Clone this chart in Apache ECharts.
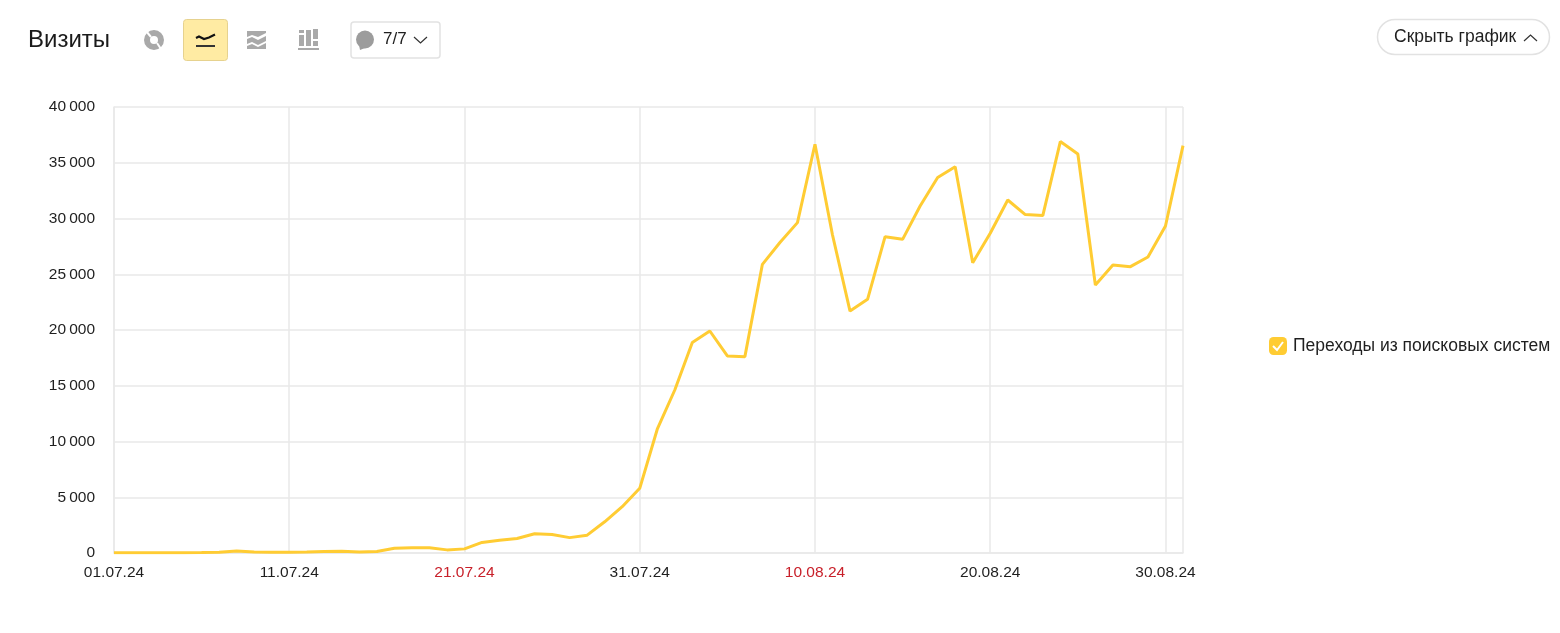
<!DOCTYPE html>
<html>
<head>
<meta charset="utf-8">
<style>
  html, body { margin: 0; padding: 0; background: #fff; }
  #chart { width: 1560px; height: 633px; }
</style>
<script src="https://cdn.jsdelivr.net/npm/echarts@6/dist/echarts.min.js"></script>
</head>
<body>
<div id="chart"></div>
<script>
const dates = [
  '01.07.24', '02.07.24', '03.07.24', '04.07.24', '05.07.24', '06.07.24', '07.07.24', '08.07.24', '09.07.24', '10.07.24',
  '11.07.24', '12.07.24', '13.07.24', '14.07.24', '15.07.24', '16.07.24', '17.07.24', '18.07.24', '19.07.24', '20.07.24',
  '21.07.24', '22.07.24', '23.07.24', '24.07.24', '25.07.24', '26.07.24', '27.07.24', '28.07.24', '29.07.24', '30.07.24',
  '31.07.24', '01.08.24', '02.08.24', '03.08.24', '04.08.24', '05.08.24', '06.08.24', '07.08.24', '08.08.24', '09.08.24',
  '10.08.24', '11.08.24', '12.08.24', '13.08.24', '14.08.24', '15.08.24', '16.08.24', '17.08.24', '18.08.24', '19.08.24',
  '20.08.24', '21.08.24', '22.08.24', '23.08.24', '24.08.24', '25.08.24', '26.08.24', '27.08.24', '28.08.24', '29.08.24',
  '30.08.24', '31.08.24'
]
const visits = [
  30, 30, 30, 30, 30, 40, 60, 170, 100, 70,
  70, 90, 130, 150, 100, 130, 420, 480, 470, 280,
  370, 950, 1150, 1300, 1730, 1650, 1380, 1600, 2800, 4150,
  5800, 11100, 14620, 18870, 19910, 17670, 17610, 25890, 27850, 29630,
  36660, 28520, 21700, 22750, 28370, 28130, 31120, 33670, 34650, 26040,
  28680, 31660, 30350, 30260, 36900, 35790, 24040, 25830, 25680, 26550,
  29330, 36540
]
const redDates = ['21.07.24', '10.08.24']
const seriesName = 'Переходы из поисковых систем'

const font = '"Liberation Sans", Arial, sans-serif'
const gridColor = '#e9e9e9'
const lineColor = '#ffcc33'
const iconColor = '#a9a9a9'

const chart = echarts.init(document.getElementById('chart'))

const option = {
  animation: false,
  textStyle: { fontFamily: font },
  grid: { left: 114, top: 107, width: 1069, height: 446 },
  legend: {
    left: 1264,
    top: 332,
    itemWidth: 18,
    itemHeight: 18,
    itemGap: 0,
    icon: 'roundRect',
    selectedMode: false,
    data: [seriesName],
    textStyle: { fontSize: 17.5, color: '#1f1f1f', padding: [2, 0, 0, 1] }
  },
  xAxis: {
    type: 'category',
    data: dates,
    boundaryGap: false,
    axisLine: { lineStyle: { color: gridColor, width: 1.5 } },
    axisTick: { show: false },
    // последняя линия закрывает сетку справа
    splitLine: {
      show: true,
      interval: (i) => i % 10 === 0 || i === dates.length - 1,
      lineStyle: { color: gridColor, width: 1.5 }
    },
    axisLabel: {
      interval: (i) => i % 10 === 0,
      margin: 12,
      fontSize: 15.5,
      fontFamily: font,
      color: (value) => (redDates.includes(value) ? '#c8202a' : '#1f1f1f')
    }
  },
  yAxis: {
    type: 'value',
    min: 0,
    max: 40000,
    interval: 5000,
    axisLine: { show: true, lineStyle: { color: gridColor, width: 1.5 } },
    axisTick: { show: false },
    splitLine: { lineStyle: { color: gridColor, width: 1.5 } },
    axisLabel: {
      margin: 19,
      fontSize: 15.5,
      fontFamily: font,
      color: '#1f1f1f',
      padding: [2, 0, 0, 0],
      formatter: (v) => String(v).replace(/\B(?=(\d{3})+$)/g, '\u2009')
    }
  },
  series: [
    {
      name: seriesName,
      type: 'line',
      data: visits,
      symbol: 'none',
      lineStyle: { color: lineColor, width: 3 },
      itemStyle: { color: lineColor }
    }
  ],
  graphic: [
    // заголовок
    { type: 'text', left: 28, top: 28, style: { text: 'Визиты', font: '24px ' + font, fill: '#1a1a1a' } },
    // круговая
    { type: 'ring', shape: { cx: 154, cy: 40, r: 10, r0: 4 }, style: { fill: iconColor } },
    { type: 'polyline', shape: { points: [[151, 37], [146, 31]] }, style: { stroke: '#fff', lineWidth: 2 } },
    { type: 'polyline', shape: { points: [[157, 43], [161, 49]] }, style: { stroke: '#fff', lineWidth: 2 } },
    // линейный, активный
    { type: 'rect', shape: { x: 183.5, y: 19.5, width: 44, height: 41, r: 3 }, style: { fill: '#ffeba3', stroke: '#e6d28f', lineWidth: 1 } },
    { type: 'polyline', smooth: 0.4, shape: { points: [[196, 38], [199, 36.5], [204, 39], [209, 37.5], [215, 34.5]] }, style: { stroke: '#111', lineWidth: 2.2, fill: null } },
    { type: 'polyline', shape: { points: [[196, 46], [215, 46]] }, style: { stroke: '#333', lineWidth: 2 } },
    // с областями
    { type: 'polygon', shape: { points: [[247, 31], [266, 31], [266, 33], [258, 37], [252, 35], [247, 37]] }, style: { fill: iconColor } },
    { type: 'polygon', shape: { points: [[247, 39], [252, 37], [258, 40], [266, 36], [266, 41], [258, 45], [252, 42], [247, 44]] }, style: { fill: iconColor } },
    { type: 'polygon', shape: { points: [[247, 46], [252, 44], [258, 47], [266, 43], [266, 49], [247, 49]] }, style: { fill: iconColor } },
    // столбцы
    { type: 'rect', shape: { x: 299, y: 35, width: 5, height: 11 }, style: { fill: iconColor } },
    { type: 'rect', shape: { x: 299, y: 30, width: 5, height: 3 }, style: { fill: iconColor } },
    { type: 'rect', shape: { x: 306, y: 30, width: 5, height: 16 }, style: { fill: iconColor } },
    { type: 'rect', shape: { x: 313, y: 29, width: 5, height: 10 }, style: { fill: iconColor } },
    { type: 'rect', shape: { x: 313, y: 41, width: 5, height: 5 }, style: { fill: iconColor } },
    { type: 'rect', shape: { x: 298, y: 48, width: 21, height: 2 }, style: { fill: iconColor } },
    // примечания
    { type: 'rect', shape: { x: 351, y: 22, width: 89, height: 36, r: 3 }, style: { fill: '#fff', stroke: '#e2e2e2', lineWidth: 1.5 } },
    { type: 'circle', shape: { cx: 365, cy: 39.5, r: 9 }, style: { fill: '#9c9c9c' } },
    { type: 'polygon', shape: { points: [[359, 45], [365, 48], [360, 50]] }, style: { fill: '#9c9c9c' } },
    { type: 'text', left: 383, top: 31, style: { text: '7/7', font: '17px ' + font, fill: '#1f1f1f' } },
    { type: 'polyline', shape: { points: [[414, 37], [420.5, 43], [427, 37]] }, style: { stroke: '#333', lineWidth: 1.2, fill: null } },
    // скрыть график
    { type: 'rect', shape: { x: 1377.5, y: 19.5, width: 172, height: 35, r: 17.5 }, style: { fill: '#fff', stroke: '#e2e2e2', lineWidth: 1.5 } },
    { type: 'text', left: 1394, top: 28, style: { text: 'Скрыть график', font: '17.5px ' + font, fill: '#1f1f1f' } },
    { type: 'polyline', shape: { points: [[1524, 41], [1530.5, 35], [1537, 41]] }, style: { stroke: '#333', lineWidth: 1.2, fill: null } },
    // галочка в легенде
    { type: 'polyline', z: 100, shape: { points: [[1273, 346], [1277, 350], [1283, 342]] }, style: { stroke: '#fff', lineWidth: 2, fill: null } }
  ]
}

chart.setOption(option)
</script>
</body>
</html>
